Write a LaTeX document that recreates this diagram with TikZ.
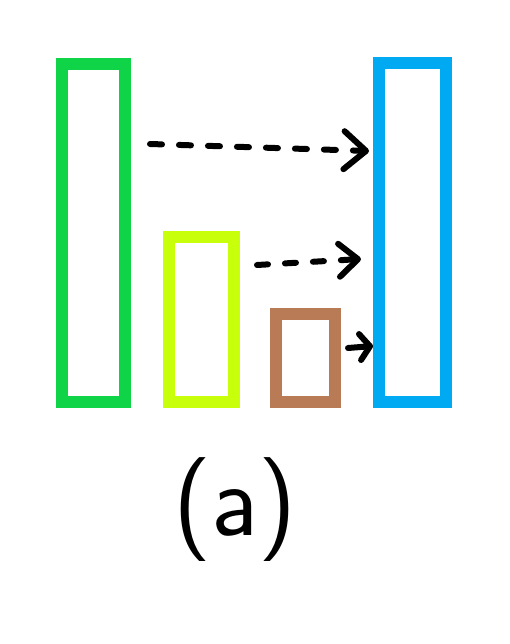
\documentclass[tikz,border=0pt]{standalone}
\usetikzlibrary{arrows.meta}
\definecolor{barGreen}{RGB}{16,212,72}
\definecolor{barLime}{RGB}{200,255,10}
\definecolor{barBrown}{RGB}{184,123,85}
\definecolor{barBlue}{RGB}{0,170,242}
\tikzset{
	bar/.style={draw, line width=12pt, inner sep=0pt, outer sep=0pt},
	pen/.style={line width=6pt, line cap=round, line join=round, black}
}

\begin{document}
\begin{tikzpicture}[x=1pt, y=-1pt]
			%%%%% START %%%%%
			\useasboundingbox (0, 0) rectangle (509, 644);
			
			\node[bar, draw=barGreen, minimum width=63pt, minimum height=338pt] (green) at (93.5, 233) {};
			\node[bar, draw=barLime, minimum width=65pt, minimum height=165pt] (lime) at (201.5, 319.5) {};
			\node[bar, draw=barBrown, minimum width=59pt, minimum height=88pt] (brown) at (305.5, 358) {};
			\node[bar, draw=barBlue, minimum width=67pt, minimum height=339pt] (blue) at (412.5, 232.5) {};
			
			\coordinate (from1) at (150, 144);
			\coordinate (to1) at (369, 151);
			\coordinate (from2) at (257, 265);
			\coordinate (to2) at (361, 259);
			\coordinate (from3) at (348, 348);
			\coordinate (to3) at (373, 346);
			
			\draw[pen, dash pattern=on 12pt off 17pt, -{Straight Barb[round, length=22pt, width=38pt]}] (from1) -- (to1);
			\draw[pen, dash pattern=on 11pt off 17pt, -{Straight Barb[round, length=19pt, width=33pt]}] (from2) -- (to2);
			\draw[pen, -{Straight Barb[round, length=10pt, width=26pt]}] (from3) -- (to3);
			
			\node[font=\fontsize{104}{120}\selectfont\sffamily] (caption) at (235, 510) {(a)};
			
			%%%%% END %%%%%
		\end{tikzpicture}
\end{document}
